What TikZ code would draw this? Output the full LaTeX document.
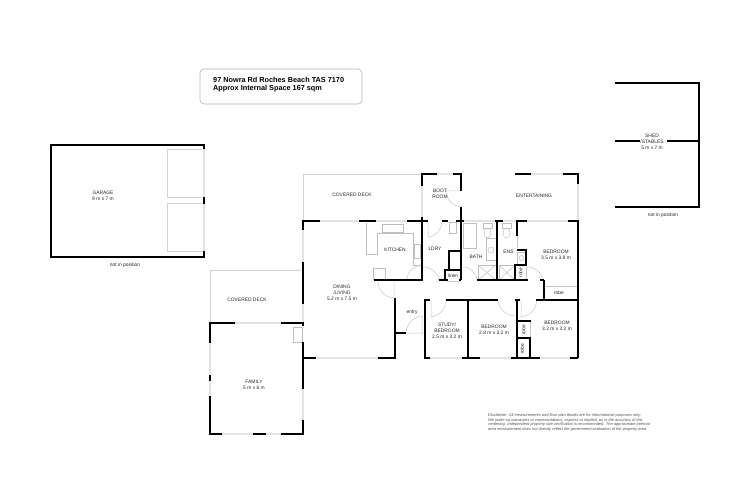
\documentclass[tikz,border=0pt]{standalone}
\usepackage{fontspec}
\setmainfont{Liberation Sans}
\tikzset{
    wall/.style={line width=2.2pt},
    window/.style={line width=1.6pt, gray!22},
    thin line/.style={line width=0.6pt, gray!35},
    swing/.style={line width=0.5pt, gray!45},
    fixture/.style={line width=0.5pt, gray!50},
    room/.style={font=\fontsize{4.9}{5.9}\selectfont, align=center, inner sep=0pt, text=black!85},
}
\begin{document}
\begin{tikzpicture}[x=1pt,y=-1pt]
        \useasboundingbox (0,0) rectangle (750,500);

        % windows and decks
        \draw[thin line] (303,221) -- (303,174) -- (422,174) -- (422,186);
        \draw[thin line] (210,323) -- (210,270) -- (303,270);
        \draw[window] (320,221) -- (359,221);
        \draw[window] (376,221) -- (407,221);
        \draw[window] (303,230) -- (303,262);
        \draw[window] (303,304) -- (303,322);
        \draw[window] (235,323) -- (281,323);
        \draw[window] (316,358) -- (378,358);
        \draw[window] (210,343) -- (210,375);
        \draw[window] (210,381) -- (210,396);
        \draw[window] (222,434) -- (253,434);
        \draw[window] (266,434) -- (281,434);
        \draw[window] (303,389) -- (303,420);
        \draw[window] (422,186) -- (422,217);
        \draw[window] (437,174) -- (453,174);
        \draw[window] (464,221) -- (495,221);
        \draw[window] (503,221) -- (516,221);
        \draw[window] (527,221) -- (568,221);
        \draw[window] (531,174) -- (563,174);
        \draw[window] (578,184) -- (578,220);
        \draw[window] (430,358) -- (462,358);
        \draw[window] (480,358) -- (511,358);
        \draw[window] (540,358) -- (570,358);
        \draw[window] (204,149) -- (204,197);
        \draw[window] (204,204) -- (204,251);

        % garage doors
        \draw[thin line] (202,149) -- (167,149) -- (167,197) -- (202,197);
        \draw[thin line] (202,203) -- (167,203) -- (167,251) -- (202,251);

        % kitchen and laundry fittings
        \draw[fixture] (366,223) -- (366,254) -- (377,254) -- (377,233) -- (413,233) -- (413,265) -- (421,265);
        \draw[fixture] (382,224) rectangle (403,232);
        \draw[fixture] (373,268) rectangle (385,279);
        \draw[fixture] (293,327) rectangle (302,342);
        \draw[fixture] (449,222) rectangle (456,233);
        \draw[fixture] (414,244) rectangle (420,258);

        % bathroom fittings
        \draw[fixture] (463,223) rectangle (476,248);
        \draw[fixture] (483,223) rectangle (492,228);
        \draw[fixture] (487.5,233) ellipse (3.5 and 5);
        \draw[fixture] (502,223) rectangle (511,228);
        \draw[fixture] (506.5,233) ellipse (3.5 and 5);
        \draw[fixture] (486,238) rectangle (496,260);
        \draw[fixture] (491,250) circle (3);
        \draw[fixture] (517,252) rectangle (526,264);
        \draw[fixture] (521.5,258) circle (2.5);
        \draw[fixture] (478,265) rectangle (496,280);
        \draw[fixture] (478,265) -- (496,280);
        \draw[fixture] (496,265) -- (478,280);
        \draw[fixture] (499,265) rectangle (515,280);
        \draw[fixture] (499,265) -- (515,280);
        \draw[fixture] (515,265) -- (499,280);

        % doors
        \draw[swing] (394,282) -- (394,298) (378,282) to[bend right=40] (394,298);
        \draw[swing] (406,333) -- (423,333) (422,316) -- (422,333) (406,333) to[bend left=40] (422,316);
        \draw[swing] (407,279) to[bend left=40] (422,265);
        \draw[swing] (461,191) -- (446,191) to[bend right=40] (461,207);
        \draw[swing] (428,222) -- (428,237) to[bend right=40] (442,222);
        \draw[swing] (423,267) to[bend left=40] (439,280);
        \draw[swing] (463,267) to[bend left=40] (477,280);
        \draw[swing] (527,267) to[bend left=40] (543,280);
        \draw[swing] (431,300) -- (431,317) to[bend right=40] (446,300);
        \draw[swing] (498,300) to[bend right=40] (515,316);
        \draw[swing] (521,300) -- (521,317) to[bend right=40] (537,300);
        \draw[swing] (447,281) -- (460,281);
        \draw[swing] (526,267) -- (526,279);
        \draw[swing] (530,321) -- (530,338);
        \draw[swing] (544,286) -- (578,286);
        \draw[swing] (517,236) -- (517,248);

        % garage walls
        \draw[wall] (204,149) -- (204,145) -- (51,145) -- (51,257) -- (204,257) -- (204,251);
        \draw[wall] (204,197) -- (204,204);

        % shed walls
        \draw[wall] (615,83) -- (699,83) -- (699,207) -- (615,207);
        \draw[wall] (615,141) -- (640,141);
        \draw[wall] (667,141) -- (699,141);

        % family and dining walls
        \draw[wall] (320,221) -- (303,221) -- (303,230);
        \draw[wall] (359,221) -- (376,221);
        \draw[wall] (407,221) -- (428,221);
        \draw[wall] (303,262) -- (303,304);
        \draw[wall] (235,323) -- (210,323) -- (210,343);
        \draw[wall] (281,323) -- (303,323) -- (303,326);
        \draw[wall] (210,375) -- (210,381);
        \draw[wall] (210,396) -- (210,434) -- (222,434);
        \draw[wall] (253,434) -- (266,434);
        \draw[wall] (281,434) -- (303,434) -- (303,420);
        \draw[wall] (303,342) -- (303,389);
        \draw[wall] (303,358) -- (316,358);
        \draw[wall] (378,358) -- (395,358) -- (395,298);
        \draw[wall] (395,333) -- (406,333);
        \draw[wall] (374,280) -- (423,280);

        % boot room and laundry walls
        \draw[wall] (437,174) -- (422,174) -- (422,186);
        \draw[wall] (453,174) -- (461,174) -- (461,191);
        \draw[wall] (422,217) -- (422,280);
        \draw[wall] (461,207) -- (461,280);
        \draw[wall] (442,221) -- (448,221);
        \draw[wall] (456,221) -- (464,221);
        \draw[wall] (439,280) -- (445,280) -- (445,270) -- (461,270);
        \draw[wall] (449,270) -- (449,251) -- (461,251);
        \draw[wall] (445,280) -- (448,280);
        \draw[wall] (459,280) -- (461,280);

        % bathroom and bedroom walls
        \draw[wall] (495,221) -- (503,221);
        \draw[wall] (516,221) -- (527,221);
        \draw[wall] (497,221) -- (497,280);
        \draw[wall] (517,221) -- (517,236);
        \draw[wall] (517,250) -- (526,250) -- (526,265) -- (515,265) -- (515,280);
        \draw[wall] (477,280) -- (528,280);
        \draw[wall] (540,280) -- (544,280);
        \draw[wall] (544,280) -- (544,300);
        \draw[wall] (568,221) -- (578,221);
        \draw[wall] (515,174) -- (531,174);
        \draw[wall] (563,174) -- (578,174) -- (578,184);
        \draw[wall] (578,220) -- (578,358);
        \draw[wall] (536,300) -- (578,300);

        % lower bedroom walls
        \draw[wall] (430,300) -- (425,300) -- (425,358) -- (430,358);
        \draw[wall] (446,300) -- (498,300);
        \draw[wall] (515,300) -- (520,300);
        \draw[wall] (468,300) -- (468,358);
        \draw[wall] (517,300) -- (517,358);
        \draw[wall] (462,358) -- (480,358);
        \draw[wall] (511,358) -- (540,358);
        \draw[wall] (570,358) -- (578,358);
        \draw[wall] (517,321) -- (531,321);
        \draw[wall] (517,338) -- (530,338) -- (530,358);

        % title box
        \draw[line width=0.6pt, gray!60, rounded corners=4pt] (200,69) rectangle (362,104);
        \node[anchor=west, inner sep=0pt, align=left, font=\fontsize{7.3}{8.2}\selectfont\bfseries] (title) at (213,85)
            {97 Nowra Rd Roches Beach TAS 7170\\Approx Internal Space 167 sqm};

        % room labels
        \node[room] (garage) at (103,196) {GARAGE\\9 m x 7 m};
        \node[room] (garagenote) at (125,265.5) {not in position};
        \node[room] (shed) at (652,142) {SHED\\/STABLES\\5 m x 7 m};
        \node[room] (shednote) at (663,215) {not in position};
        \node[room] (deckupper) at (352,195) {COVERED DECK};
        \node[room] (decklower) at (247,300) {COVERED DECK};
        \node[room] (family) at (254,385) {FAMILY\\5 m x 6 m};
        \node[room] (dining) at (342,293) {DINING\\/LIVING\\5.2 m x 7.5 m};
        \node[room] (kitchen) at (395,250) {KITCHEN};
        \node[room] (entry) at (412,312) {entry};
        \node[room] (boot) at (440,194) {BOOT\\ROOM};
        \node[room] (ldry) at (435,249) {LDRY};
        \node[room] (linen) at (453,276) {linen};
        \node[room] (bath) at (476,257) {BATH};
        \node[room] (ens) at (508.5,252) {ENS};
        \node[room] (entertaining) at (534,196) {ENTERTAINING};
        \node[room] (bedone) at (556,255) {BEDROOM\\3.5 m x 3.8 m};
        \node[room, rotate=90] (robeone) at (520.5,272.5) {robe};
        \node[room] (robetwo) at (559,293) {robe};
        \node[room] (study) at (447,331) {STUDY/\\BEDROOM\\2.5 m x 3.2 m};
        \node[room] (bedtwo) at (494,329.5) {BEDROOM\\2.8 m x 3.2 m};
        \node[room] (bedthree) at (557,326) {BEDROOM\\3.2 m x 3.2 m};
        \node[room, rotate=90] (robethree) at (523.5,330) {robe};
        \node[room, rotate=90] (robefour) at (522,349) {robe};

        % disclaimer
        \node[anchor=north west, inner sep=0pt, align=left, text=black!70, font=\fontsize{3.95}{4.65}\selectfont\itshape] (disclaimer) at (488,413.5)
            {Disclaimer: All measurements and floor plan details are for informational purposes only.\\
             We  make no warranties or representations, express or implied, as to the accuracy of this\\
             rendering. Independent property size verification is recommended. The approximate internal\\
             area measurement does not directly reflect the government evaluation of the property area.};
    \end{tikzpicture}
\end{document}
